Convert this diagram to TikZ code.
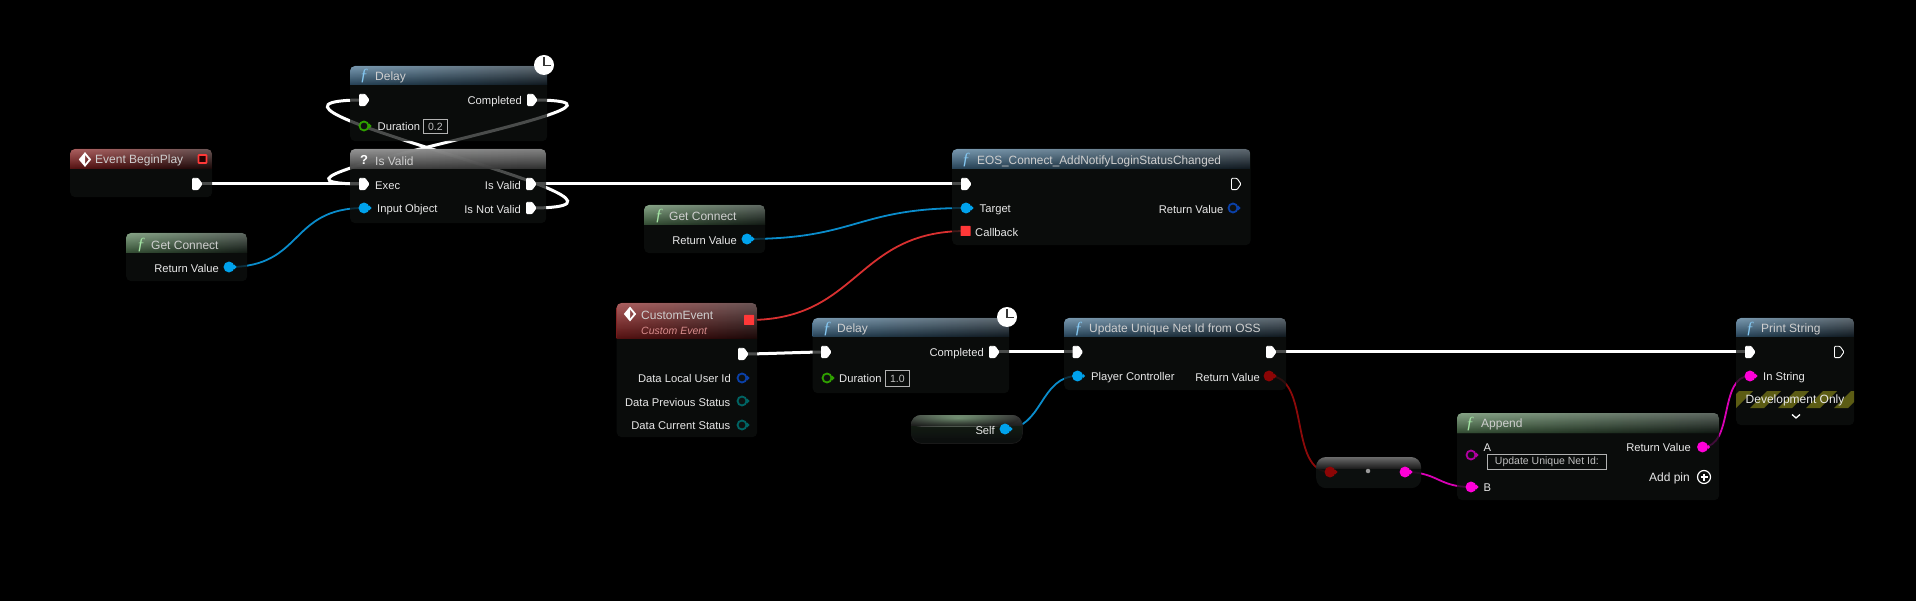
\documentclass[tikz,border=0pt]{standalone}
\usepackage{fontspec}
\setmainfont{Liberation Sans}
\newfontfamily\fnfont{Liberation Serif}
\newfontfamily\condfont[FakeStretch=.985]{Liberation Sans}
\usetikzlibrary{calc,fadings}
\pgfdeclarelayer{bg}\pgfdeclarelayer{wires}\pgfsetlayers{bg,wires,main}
\definecolor{bodyc}{HTML}{0E1110}
\definecolor{pinblue}{HTML}{00A2EC}
\definecolor{wireblue}{HTML}{0A8CCB}
\definecolor{pinred}{HTML}{FF3838}
\definecolor{wirered}{HTML}{D83030}
\definecolor{pindred}{HTML}{8C0505}
\definecolor{wiredred}{HTML}{8C0A0A}
\definecolor{pinmag}{HTML}{FF00D8}
\definecolor{wiremag}{HTML}{D800B4}
\definecolor{pinmagd}{HTML}{B000A0}
\definecolor{pingreen}{HTML}{2FA000}
\definecolor{pinnavy}{HTML}{0A40A8}
\definecolor{pinteal}{HTML}{006464}
\definecolor{labelc}{HTML}{E8E8E8}
\definecolor{titlec}{HTML}{CFCFCF}
\definecolor{hblue}{HTML}{44769A}
\definecolor{hbluer}{HTML}{1A2A36}
\definecolor{hgreen}{HTML}{5A885A}
\definecolor{hgreenr}{HTML}{1C2A20}
\definecolor{hred}{HTML}{951C1C}
\definecolor{hredr}{HTML}{2C0C0C}
\definecolor{hgrey}{HTML}{707070}
\definecolor{hgreyr}{HTML}{525252}
\definecolor{fnblue}{HTML}{85C8F2}
\definecolor{fngreen}{HTML}{A4E6A4}
\definecolor{stripec}{HTML}{5C5C14}
\tikzset{
  bodybox/.style={fill=bodyc,fill opacity=.75,rounded corners=5pt,inner sep=0pt,anchor=north west},
  lab/.style={font=\fontsize{11.2}{13}\selectfont,text=labelc,inner sep=0pt,yshift=-1.5pt},
  labl/.style={lab,anchor=west},
  labr/.style={lab,anchor=east},
  ttl/.style={font=\fontsize{12}{14}\selectfont,text=titlec,inner sep=0pt,anchor=west,yshift=-1.5pt},
  fn/.style={font=\fnfont\itshape\fontsize{17}{17}\selectfont,inner sep=0pt},
  valbox/.style={draw=white!70!black,line width=.8pt,font=\fontsize{10.5}{12}\selectfont,text=white!75!black,inner sep=0pt,anchor=north west},
  execwire/.style={draw=white,line width=3pt},
  bluewire/.style={draw=wireblue,line width=1.8pt},
  redwire/.style={draw=wirered,line width=1.8pt},
  dredwire/.style={draw=wiredred,line width=1.8pt},
  magwire/.style={draw=wiremag,line width=1.8pt},
  execpen/.style={draw=white,line width=.9pt,rounded corners=1pt},
  clocknode/.style={circle,fill=white,minimum size=20pt,inner sep=0pt},
  evsq/.style={minimum size=10pt,inner sep=0pt,rounded corners=.5pt},
}
\newcommand\bpnode[8]{% name x0 y0 x1 y1 yh left right
  \pgfmathsetmacro\bpw{#4-#2}\pgfmathsetmacro\bph{#5-#3}
  \node[bodybox,minimum width=\bpw pt,minimum height=\bph pt] (#1) at (#2,#3) {};
  \begin{scope}
    \clip (#2,#6) [rounded corners=5pt] -- (#2,#3) -- (#4,#3) [sharp corners] -- (#4,#6) -- cycle;
    \shade[left color=#7,right color=#8,opacity=.9] (#2,#3) rectangle (#4,#6);
    \fill[black,path fading=north,opacity=.4] (#2,#3) rectangle (#4,#6);
    \fill[white,path fading=south,opacity=.3] (#2,#3) rectangle (#4,#6);
  \end{scope}
}
\newcommand\execpin[4]{%
  \coordinate (#1) at (#2,#3);
  \draw[execpen,fill=#4,shift={(#2,#3)}] (-4.5,-5.7) -- (1,-5.7) -- (5,0) -- (1,5.7) -- (-4.5,5.7) -- cycle;
}
\newcommand\datapin[5]{% name x y colour fill
  \node[circle,draw=#4,fill=#5,line width=1.8pt,minimum size=9pt,inner sep=0pt] (#1) at (#2,#3) {};
  \fill[#4,shift={(#2,#3)}] (5,-2.5) -- (7.5,0) -- (5,2.5) -- cycle;
}
\newcommand\wire[4]{%
  \begin{pgfonlayer}{wires}
    \draw[#1] (#2.center) .. controls ($(#2.center)+(#4,0)$) and ($(#3.center)-(#4,0)$) .. (#3.center);
  \end{pgfonlayer}
}
\newcommand\clockhands[1]{%
  \draw[black!80,line width=1.2pt] ($(#1.center)+(0,-8)$) -- ($(#1.center)+(0,.5)$) -- ($(#1.center)+(6.5,.5)$);
}
\newcommand\evicon[2]{% x y
  \draw[white,line width=1.8pt,shift={(#1,#2)}] (-5,0) -- (0,-6) -- (5,0) -- (0,6) -- cycle;
  \fill[white,shift={(#1,#2)}] (-5,0) -- (0,-6) -- (0,6) -- cycle;
}
\begin{document}
\begin{tikzpicture}[x=1pt,y=-1pt]
\useasboundingbox (0,0) rectangle (1916,601);
\begin{pgfonlayer}{bg}\fill[black] (0,0) rectangle (1916,601);\end{pgfonlayer}

% Delay 1
\bpnode{delayA}{350}{66}{547}{141}{85}{hblue}{hbluer}
\node[fn,text=fnblue] (delayAf) at (364,76) {ƒ};
\node[ttl] (delayAt) at (375,75.5) {Delay};
\execpin{delayAin}{364}{100}{white}
\execpin{delayAout}{532}{100}{white}
\datapin{delayAdur}{364}{126}{pingreen}{bodyc}
\node[labr] (delayAc) at (522,100) {Completed};
\node[labl] (delayAd) at (377.5,125) {Duration};
\node[valbox,minimum width=24pt,minimum height=14pt] (delayAv) at (423,119) {0.2};
\node[clocknode] (clockA) at (544,65) {};
\clockhands{clockA}

% Is Valid
\bpnode{valid}{350}{149}{546}{223}{169}{hgrey}{hgreyr}
\node[font=\bfseries\fontsize{13}{13}\selectfont,text=white,inner sep=0pt] (validq) at (364,160) {?};
\node[ttl] (validt) at (375,159.5) {Is Valid};
\execpin{validin}{364}{184}{white}
\execpin{validok}{531}{184}{white}
\execpin{validno}{531}{208}{white}
\datapin{validobj}{364}{208}{pinblue}{pinblue}
\node[labl] (validx) at (375,184) {Exec};
\node[labl] (validi) at (377,208) {Input Object};
\node[labr] (valido) at (521,184) {Is Valid};
\node[labr] (validn) at (521,208) {Is Not Valid};

% Event BeginPlay
\bpnode{begin}{70}{149}{212}{197}{169}{hred}{hredr}
\evicon{85}{159.5}
\node[ttl] (begint) at (95,159) {Event BeginPlay};
\node[evsq,draw=pinred,fill=black!85!red,line width=1.6pt,minimum size=8pt] (beginsq) at (202.5,159) {};
\execpin{beginout}{197}{184}{white}

% Get Connect 1
\bpnode{getA}{126}{233}{247}{281}{253}{hgreen}{hgreenr}
\node[fn,text=fngreen] (getAf) at (141,245) {ƒ};
\node[ttl] (getAt) at (151,243.5) {Get Connect};
\node[labr] (getAr) at (219,267) {Return Value};
\datapin{getAout}{229}{267}{pinblue}{pinblue}

% EOS
\bpnode{eos}{952}{149}{1250.5}{245}{169}{hblue}{hbluer}
\node[fn,text=fnblue] (eosf) at (966,160) {ƒ};
\node[ttl,font=\condfont\fontsize{12}{14}\selectfont] (eost) at (977,159.5) {EOS\_Connect\_AddNotifyLoginStatusChanged};
\execpin{eosin}{966}{184}{white}
\execpin{eosout}{1236}{184}{bodyc}
\datapin{eostarget}{966}{208}{pinblue}{pinblue}
\datapin{eosret}{1233}{208}{pinnavy}{bodyc}
\node[evsq,fill=pinred] (eoscb) at (965.5,231) {};
\node[labl] (eostt) at (979.5,208) {Target};
\node[labl] (eosct) at (975,231) {Callback};
\node[labr] (eosrt) at (1223.5,208) {Return Value};

% Get Connect 2
\bpnode{getB}{644}{205}{765}{253}{225}{hgreen}{hgreenr}
\node[fn,text=fngreen] (getBf) at (659,216.5) {ƒ};
\node[ttl] (getBt) at (669,215) {Get Connect};
\node[labr] (getBr) at (737,239) {Return Value};
\datapin{getBout}{747}{239}{pinblue}{pinblue}

% Custom Event
\bpnode{custom}{616.5}{303}{757}{437}{339}{hred}{hredr}
\evicon{630}{314}
\node[ttl] (customt) at (641,313.5) {CustomEvent};
\node[ttl,font=\itshape\fontsize{10.5}{12}\selectfont,text=red!35!white!85!black] (customs) at (641,329) {Custom Event};
\node[evsq,fill=pinred] (customsq) at (749,320) {};
\execpin{customout}{743}{354}{white}
\datapin{customA}{742}{378}{pinnavy}{bodyc}
\datapin{customB}{742}{401}{pinteal}{bodyc}
\datapin{customC}{742}{425}{pinteal}{bodyc}
\node[labr] (customAl) at (731,377) {Data Local User Id};
\node[labr] (customBl) at (730.5,401) {Data Previous Status};
\node[labr] (customCl) at (730.5,424) {Data Current Status};

% Delay 2
\bpnode{delayB}{812.5}{318}{1009}{393}{337}{hblue}{hbluer}
\node[fn,text=fnblue] (delayBf) at (827,329) {ƒ};
\node[ttl] (delayBt) at (837,328) {Delay};
\execpin{delayBin}{826}{352}{white}
\execpin{delayBout}{994}{352}{white}
\datapin{delayBdur}{827}{378}{pingreen}{bodyc}
\node[labr] (delayBc) at (984,352) {Completed};
\node[labl] (delayBd) at (839,377) {Duration};
\node[valbox,minimum width=24pt,minimum height=16pt] (delayBv) at (885,370) {1.0};
\node[clocknode] (clockB) at (1007,317) {};
\clockhands{clockB}

% Update
\bpnode{upd}{1064}{318}{1286}{390}{337}{hblue}{hbluer}
\node[fn,text=fnblue] (updf) at (1078.5,329) {ƒ};
\node[ttl] (updt) at (1089,328) {Update Unique Net Id from OSS};
\execpin{updin}{1077.5}{352}{white}
\execpin{updout}{1271}{352}{white}
\datapin{updpc}{1077.5}{376}{pinblue}{pinblue}
\datapin{updret}{1269}{376}{pindred}{pindred}
\node[labl] (updpl) at (1091,376) {Player Controller};
\node[labr] (updrl) at (1260,376) {Return Value};

% Self
\node[bodybox,fill opacity=.9,rounded corners=10pt,draw=white!10!black,line width=.8pt,minimum width=111pt,minimum height=28pt] (self) at (911,415) {};
\begin{scope}
  \clip[rounded corners=10pt] (911,415) rectangle (1022,443);
  \shade[top color=hgreen!20!black,bottom color=bodyc] (911,426) rectangle (1022,437);
  \begin{scope}
    \clip (911,415) rectangle (1022,426);
    \fill[white!25!black] (911,415) rectangle (1022,426);
    \shade[inner color=hgreen!75!white,outer color=white!22!black] (958,418) ellipse (62pt and 11pt);
    \fill[black,path fading=north,opacity=.55] (911,415) rectangle (1022,426);
  \end{scope}
\end{scope}
\node[labr] (selfl) at (995,429) {Self};
\datapin{selfout}{1005}{429}{pinblue}{pinblue}

% Conversion node
\node[bodybox,fill opacity=.9,rounded corners=10pt,minimum width=105pt,minimum height=31pt] (cast) at (1316,457) {};
\begin{scope}
  \clip[rounded corners=10pt] (1316,457) rectangle (1421,488);
  \shade[top color=white!42!black,bottom color=white!12!black] (1316,457) rectangle (1421,468);
\end{scope}
\datapin{castin}{1330}{472}{pindred}{pindred}
\datapin{castout}{1405}{472}{pinmag}{pinmag}
\node[circle,fill=white!60!black,minimum size=4.5pt,inner sep=0pt] (castdot) at (1368,471) {};

% Append
\bpnode{app}{1457}{413}{1719}{500}{433}{hgreen}{hgreenr}
\node[fn,text=fngreen] (appf) at (1470,424) {ƒ};
\node[ttl] (appt) at (1481,422.5) {Append};
\datapin{appA}{1471}{455}{pinmagd}{bodyc}
\datapin{appB}{1471}{487}{pinmag}{pinmag}
\datapin{appret}{1702.5}{447}{pinmag}{pinmag}
\node[labl] (appAl) at (1483.5,446) {A};
\node[labl] (appBl) at (1483.5,486) {B};
\node[valbox,minimum width=119pt,minimum height=15pt] (appv) at (1487,454) {Update Unique Net Id:};
\node[labr] (apprl) at (1691,446) {Return Value};
\node[labr,font=\fontsize{12}{14}\selectfont] (appal) at (1690,477) {Add pin};
\node[circle,draw=white,line width=1.2pt,minimum size=13pt,inner sep=0pt] (appplus) at (1704,477) {};
\draw[white,line width=1.2pt] ($(appplus.center)+(-3.5,0)$) -- ($(appplus.center)+(3.5,0)$) ($(appplus.center)+(0,-3.5)$) -- ($(appplus.center)+(0,3.5)$);

% Print String
\bpnode{prt}{1736}{318}{1854}{425}{337}{hblue}{hbluer}
\node[fn,text=fnblue] (prtf) at (1750,329) {ƒ};
\node[ttl] (prtt) at (1761,328) {Print String};
\execpin{prtin}{1750}{352}{white}
\execpin{prtout}{1839}{352}{bodyc}
\datapin{prtstr}{1750}{376}{pinmag}{pinmag}
\node[labl] (prtsl) at (1763,376) {In String};
\begin{scope}
  \clip (1736,391) rectangle (1854,408);
  \foreach \i in {0,...,5} {
    \fill[stripec] ({1722+\i*28},408) -- ({1736+\i*28},408) -- ({1753+\i*28},391) -- ({1739+\i*28},391) -- cycle;
  }
\end{scope}
\node[lab,font=\fontsize{12}{14}\selectfont] (prtdev) at (1795,399) {Development Only};
\draw[white,line width=1.3pt] (1792,414.5) -- (1796,418) -- (1800,414.5);

% Wires
\wire{execwire}{beginout}{validin}{40}
\wire{execwire}{delayAout}{validin}{170}
\wire{execwire}{validno}{delayAin}{175}
\wire{execwire}{validok}{eosin}{60}
\wire{execwire}{customout}{delayBin}{20}
\wire{execwire}{delayBout}{updin}{20}
\wire{execwire}{updout}{prtin}{60}
\wire{bluewire}{getAout}{validobj}{75}
\wire{bluewire}{getBout}{eostarget}{110}
\wire{redwire}{customsq}{eoscb}{110}
\wire{bluewire}{selfout}{updpc}{38}
\wire{dredwire}{updret}{castin}{42}
\wire{magwire}{castout}{appB}{33}
\wire{magwire}{appret}{prtstr}{32}
\end{tikzpicture}
\end{document}
